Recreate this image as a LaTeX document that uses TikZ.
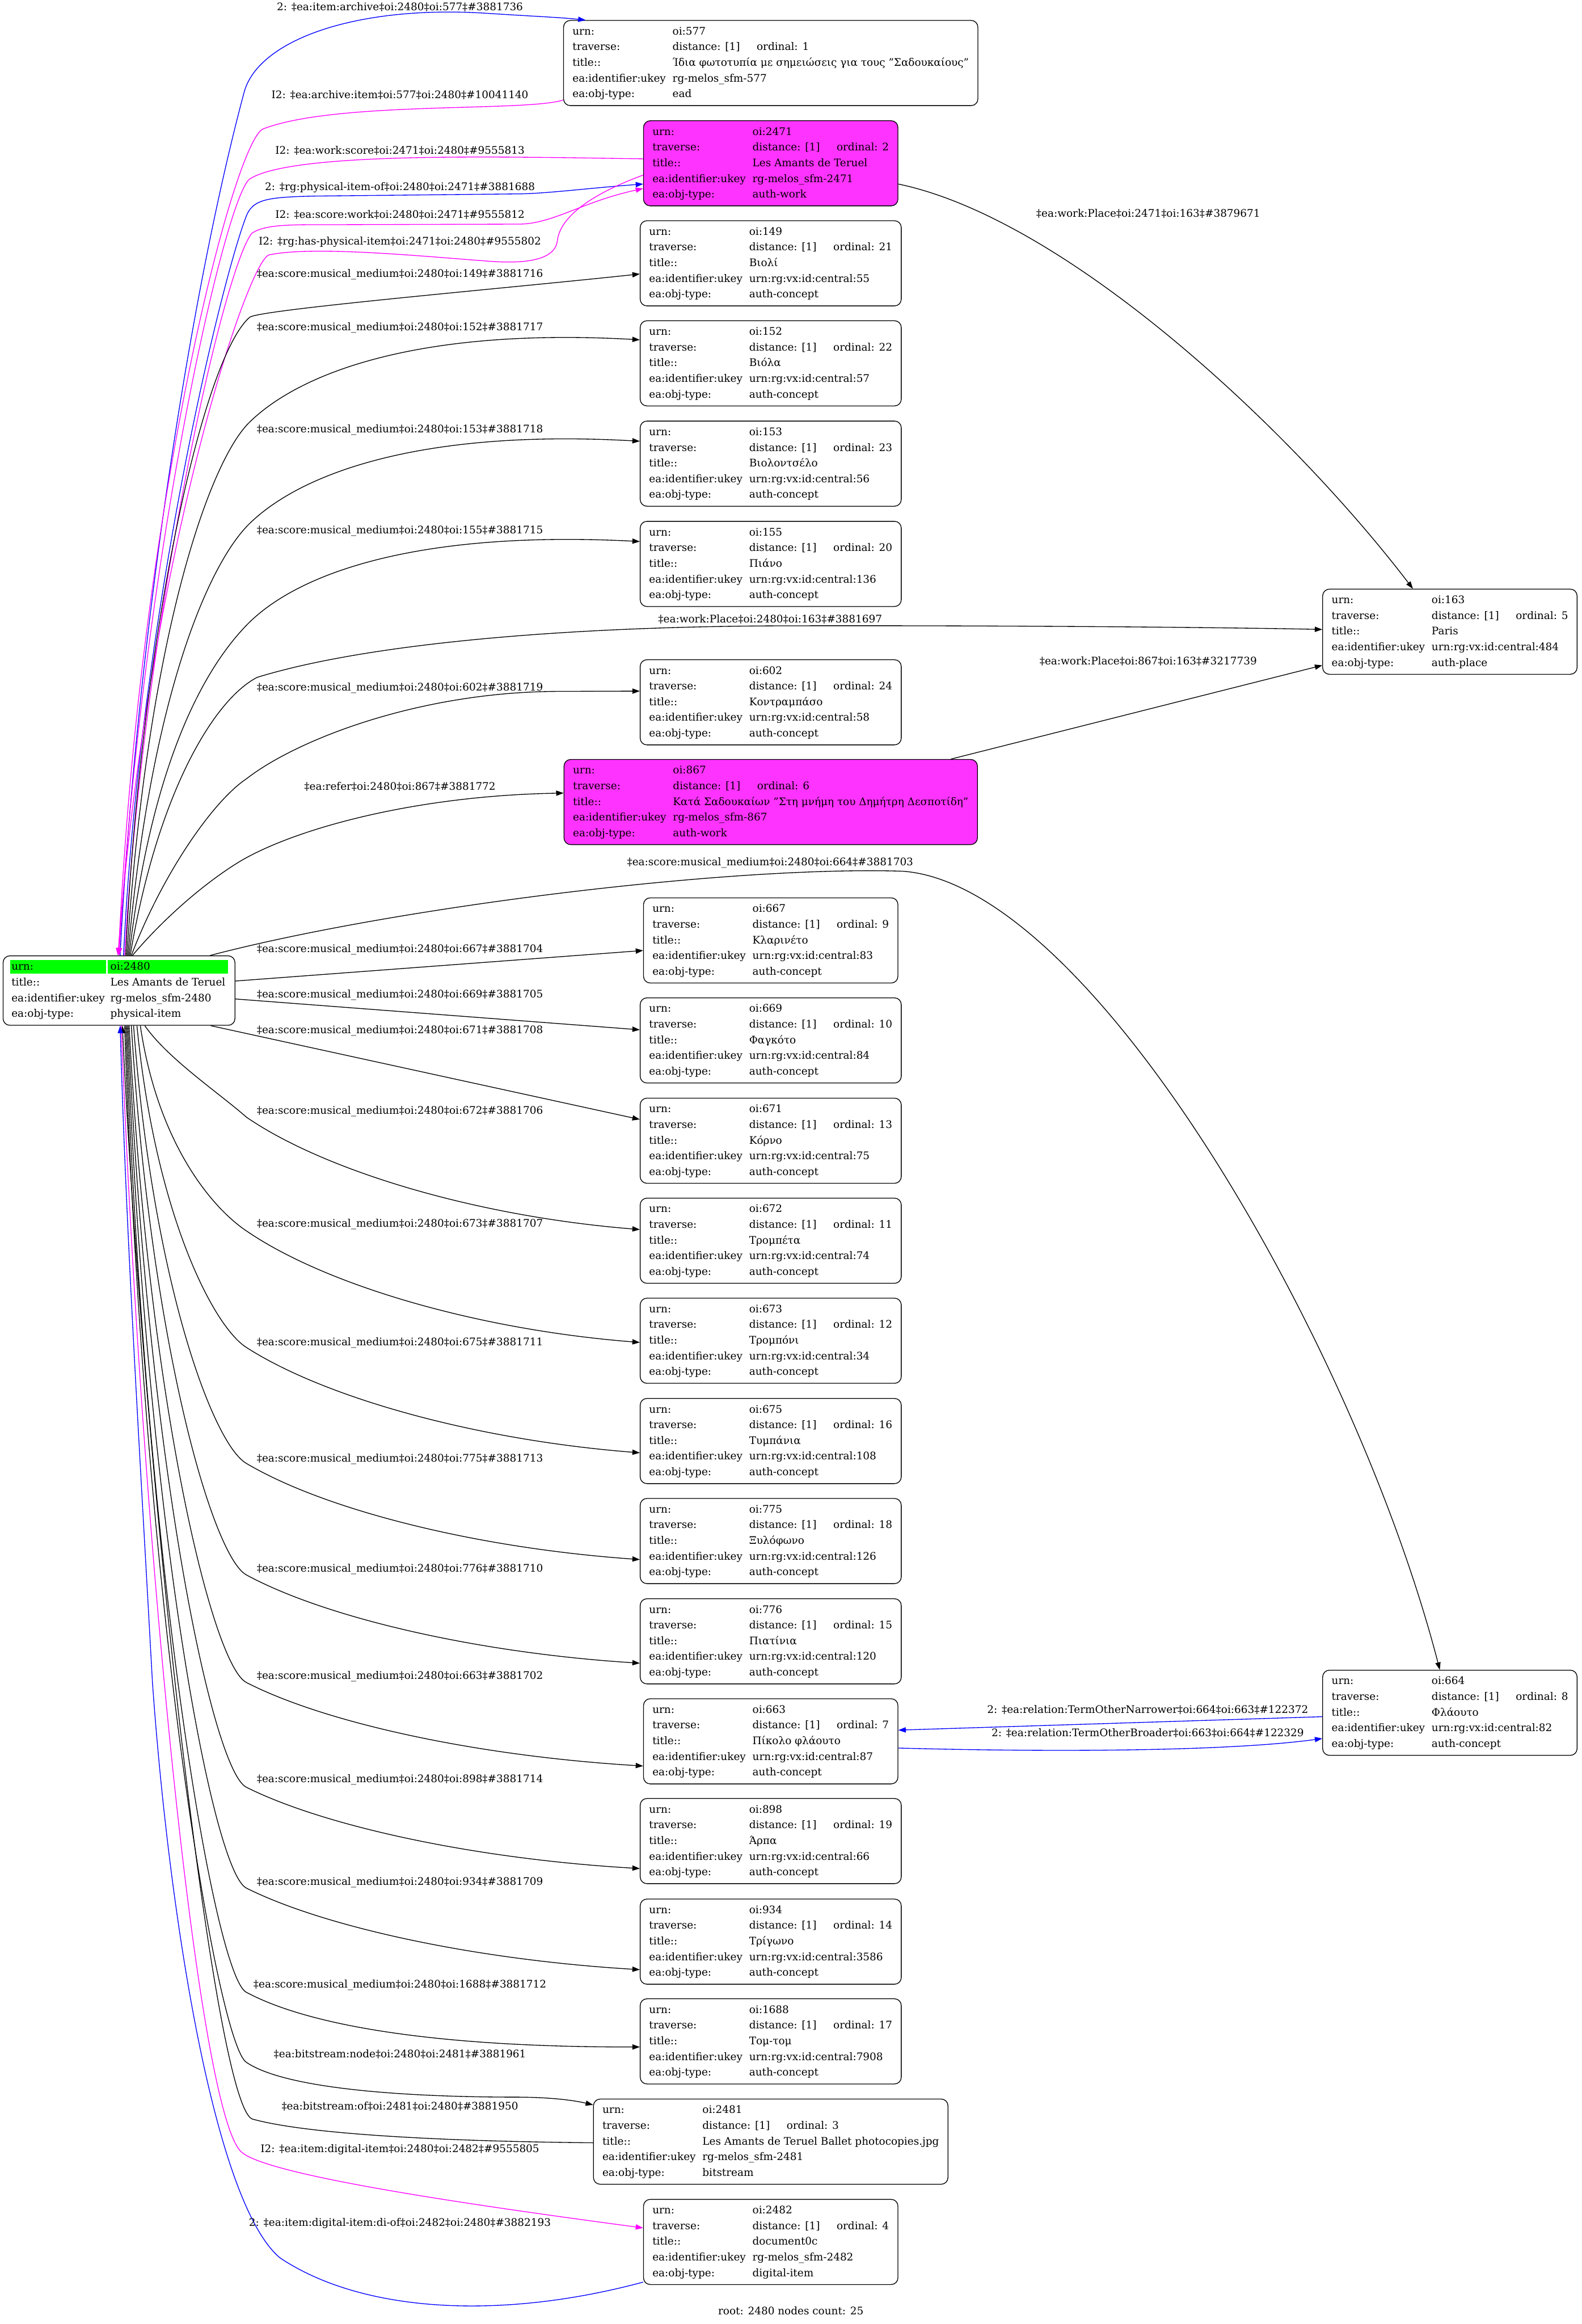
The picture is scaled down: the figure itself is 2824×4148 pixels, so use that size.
\documentclass[tikz,border=0pt]{standalone}
\usepackage{fontspec}
\setmainfont{DejaVu Serif}
\usetikzlibrary{arrows.meta,calc}
\definecolor{magE}{RGB}{255,0,255}
\definecolor{magF}{RGB}{255,51,255}
\definecolor{grn}{RGB}{0,255,0}
\definecolor{bluE}{RGB}{0,0,255}
\pgfdeclarelayer{background}
\pgfsetlayers{background,main}
\newcommand{\trv}[1]{distance: [1]\hspace{30pt}ordinal: #1\hspace{13pt}}
\newcommand{\recbox}[5]{\begin{tabular}{@{\hspace{16pt}}l@{\hspace{12pt}}l@{\hspace{16pt}}}urn: & #1\\ traverse: & \trv{#2}\\ title:: & #3\\ ea:identifier:ukey & #4\\ ea:obj-type: & #5\end{tabular}}
\newcommand{\mm}{‡ea:score:musical\_medium‡oi:2480‡oi:}
\begin{document}
\begin{tikzpicture}[x=1pt,y=-1pt,
  font=\fontsize{18.67pt}{28pt}\selectfont,
  nbox/.style={draw, line width=1.35pt, rounded corners=12pt, inner xsep=0pt, inner ysep=6pt},
  magbox/.style={nbox, fill=magF},
  lbl/.style={inner sep=0pt, text height=14pt, text depth=4.5pt},
  conn/.style={line width=1.35pt, -{Triangle[length=13.3pt,width=9.3pt]}},
  bconn/.style={conn, color=bluE},
  mconn/.style={conn, color=magE}]
\useasboundingbox (0,0) rectangle (2824,4148);

% ---------- nodes ----------
\node[nbox] (root) at (212.5,1768) {\begin{tabular}{@{\hspace{15pt}}l@{\hspace{10pt}}l@{\hspace{17pt}}}urn: & oi:2480\\ title:: & Les Amants de Teruel\\ ea:identifier:ukey & rg-melos\_sfm-2480\\ ea:obj-type: & physical-item\end{tabular}};
\begin{pgfonlayer}{background}
\fill[grn] ($(root.north west)+(13,8)$) rectangle ($(root.north west)+(184,32)$);
\fill[grn] ($(root.north west)+(188,8)$) rectangle ($(root.north east)+(-13,32)$);
\end{pgfonlayer}

\node[nbox] (n577) at (1376,112.5) {\recbox{oi:577}{1}{Ίδια φωτοτυπία με σημειώσεις για τους "Σαδουκαίους"}{rg-melos\_sfm-577}{ead}};
\node[magbox] (n2471) at (1376,291.5) {\recbox{oi:2471}{2}{Les Amants de Teruel}{rg-melos\_sfm-2471}{auth-work}};
\node[nbox] (n149) at (1376,470) {\recbox{oi:149}{21}{Βιολί}{urn:rg:vx:id:central:55}{auth-concept}};
\node[nbox] (n152) at (1376,648.5) {\recbox{oi:152}{22}{Βιόλα}{urn:rg:vx:id:central:57}{auth-concept}};
\node[nbox] (n153) at (1376,827.5) {\recbox{oi:153}{23}{Βιολοντσέλο}{urn:rg:vx:id:central:56}{auth-concept}};
\node[nbox] (n155) at (1376,1006.5) {\recbox{oi:155}{20}{Πιάνο}{urn:rg:vx:id:central:136}{auth-concept}};
\node[nbox] (n602) at (1376,1253.5) {\recbox{oi:602}{24}{Κοντραμπάσο}{urn:rg:vx:id:central:58}{auth-concept}};
\node[magbox] (n867) at (1376,1431.5) {\recbox{oi:867}{6}{Κατά Σαδουκαίων "Στη μνήμη του Δημήτρη Δεσποτίδη"}{rg-melos\_sfm-867}{auth-work}};
\node[nbox] (n667) at (1376,1678.5) {\recbox{oi:667}{9}{Κλαρινέτο}{urn:rg:vx:id:central:83}{auth-concept}};
\node[nbox] (n669) at (1376,1857) {\recbox{oi:669}{10}{Φαγκότο}{urn:rg:vx:id:central:84}{auth-concept}};
\node[nbox] (n671) at (1376,2036) {\recbox{oi:671}{13}{Κόρνο}{urn:rg:vx:id:central:75}{auth-concept}};
\node[nbox] (n672) at (1376,2214.5) {\recbox{oi:672}{11}{Τρομπέτα}{urn:rg:vx:id:central:74}{auth-concept}};
\node[nbox] (n673) at (1376,2393) {\recbox{oi:673}{12}{Τρομπόνι}{urn:rg:vx:id:central:34}{auth-concept}};
\node[nbox] (n675) at (1376,2572) {\recbox{oi:675}{16}{Τυμπάνια}{urn:rg:vx:id:central:108}{auth-concept}};
\node[nbox] (n775) at (1376,2750.5) {\recbox{oi:775}{18}{Ξυλόφωνο}{urn:rg:vx:id:central:126}{auth-concept}};
\node[nbox] (n776) at (1376,2929.5) {\recbox{oi:776}{15}{Πιατίνια}{urn:rg:vx:id:central:120}{auth-concept}};
\node[nbox] (n663) at (1376,3108) {\recbox{oi:663}{7}{Πίκολο φλάουτο}{urn:rg:vx:id:central:87}{auth-concept}};
\node[nbox] (n898) at (1376,3286) {\recbox{oi:898}{19}{Άρπα}{urn:rg:vx:id:central:66}{auth-concept}};
\node[nbox] (n934) at (1376,3465.5) {\recbox{oi:934}{14}{Τρίγωνο}{urn:rg:vx:id:central:3586}{auth-concept}};
\node[nbox] (n1688) at (1376,3643.5) {\recbox{oi:1688}{17}{Τομ-τομ}{urn:rg:vx:id:central:7908}{auth-concept}};
\node[nbox] (n2481) at (1376,3822.5) {\recbox{oi:2481}{3}{Les Amants de Teruel Ballet photocopies.jpg}{rg-melos\_sfm-2481}{bitstream}};
\node[nbox] (n2482) at (1376,4001.5) {\recbox{oi:2482}{4}{document0c}{rg-melos\_sfm-2482}{digital-item}};
\node[nbox] (n163) at (2588.5,1127.5) {\recbox{oi:163}{5}{Paris}{urn:rg:vx:id:central:484}{auth-place}};
\node[nbox] (n664) at (2588.5,3057) {\recbox{oi:664}{8}{Φλάουτο}{urn:rg:vx:id:central:82}{auth-concept}};

% ---------- edges above root ----------
\draw[bconn] ($(root.north)+(2,0)$) .. controls (240,1200) and (330,560) .. (436,164) .. controls (462,70) and (640,8) .. (873,24) .. controls (950,29) and (1000,31) .. ($(n577.north west)+(40,0)$);
\draw[mconn] ($(n577.west)+(0,66)$) .. controls (940,200) and (600,180) .. (470,230) .. controls (418,250) and (250,900) .. ($(root.north)+(-1,0)$);
\draw[mconn] ($(n2471.west)+(0,-8)$) .. controls (900,280) and (520,270) .. (445,320) .. controls (400,360) and (255,1000) .. ($(root.north)+(0,0)$);
\draw[bconn] ($(root.north)+(8,0)$) .. controls (250,1100) and (395,500) .. (440,385) .. controls (452,355) and (480,352) .. (560,350) -- (930,346) .. controls (980,345) and (1060,335) .. ($(n2471.west)+(0,37)$);
\draw[mconn] ($(root.north)+(10,0)$) .. controls (258,1100) and (400,475) .. (450,416) .. controls (475,400) and (520,401) .. (600,401) -- (930,400) .. controls (990,398) and (1040,360) .. ($(n2471.west)+(0,45)$);
\draw[mconn] ($(n2471.west)+(0,21)$) .. controls (1060,345) and (1000,385) .. (995,430) .. controls (990,470) and (920,470) .. (870,466) .. controls (760,458) and (560,438) .. (480,455) .. controls (440,470) and (265,1000) .. ($(root.north)+(-2,0)$);

\draw[conn] ($(root.north)+(12,0)$) .. controls (250,1150) and (360,640) .. (446,566) .. controls (470,552) and (900,515) .. ($(n149.west)+(0,19)$);
\draw[conn] ($(root.north)+(14,0)$) .. controls (262,1150) and (370,830) .. (444,755) .. controls (540,660) and (760,585) .. ($(n152.west)+(0,-42)$);
\draw[conn] ($(root.north)+(16,0)$) .. controls (268,1250) and (370,1010) .. (444,936) .. controls (540,841) and (760,766) .. ($(n153.west)+(0,-40)$);
\draw[conn] ($(root.north)+(18,0)$) .. controls (272,1350) and (370,1186) .. (444,1112) .. controls (540,1017) and (760,947) .. ($(n155.west)+(0,-40)$);
\draw[conn] ($(root.north)+(20,0)$) .. controls (280,1420) and (380,1250) .. (459,1209) .. controls (650,1150) and (1000,1118) .. (1400,1117) .. controls (1800,1116) and (2200,1120) .. ($(n163.west)+(0,-4)$);
\draw[conn] ($(root.north)+(22,0)$) .. controls (290,1560) and (380,1430) .. (440,1390) .. controls (530,1320) and (750,1234) .. (1000,1234) -- ($(n602.west)+(0,-20)$);
\draw[conn] ($(root.north)+(24,0)$) .. controls (300,1630) and (380,1565) .. (436,1533) .. controls (540,1475) and (750,1420) .. ($(n867.west)+(0,-16)$);
\draw[conn] ($(root.north east)+(-45,0)$) .. controls (700,1620) and (1300,1545) .. (1612,1555) .. controls (1950,1580) and (2420,2400) .. ($(n664.north)+(-18,0)$);

% ---------- edges right / below root ----------
\draw[conn] ($(root.east)+(0,-17)$) -- ($(n667.west)+(0,18)$);
\draw[conn] ($(root.east)+(0,15)$) -- ($(n669.west)+(0,-19)$);
\draw[conn] ($(root.south east)+(-44,0)$) -- ($(n671.west)+(0,-38)$);
\draw[conn] ($(root.south)+(46,0)$) .. controls (300,1890) and (390,1950) .. (440,1994) .. controls (580,2090) and (850,2171) .. ($(n672.west)+(0,-20)$);
\draw[conn] ($(root.south)+(38,0)$) .. controls (282,2043) and (380,2157) .. (440,2197) .. controls (580,2293) and (850,2373) .. ($(n673.west)+(0,3)$);
\draw[conn] ($(root.south)+(32,0)$) .. controls (277,2164) and (380,2367) .. (440,2405) .. controls (580,2495) and (850,2570) .. ($(n675.west)+(0,21)$);
\draw[conn] ($(root.south)+(26,0)$) .. controls (272,2284) and (380,2578) .. (440,2612) .. controls (580,2695) and (850,2763) .. ($(n775.west)+(0,33)$);
\draw[conn] ($(root.south)+(22,0)$) .. controls (269,2399) and (380,2779) .. (440,2811) .. controls (580,2887) and (850,2950) .. ($(n776.west)+(0,39)$);
\draw[conn] ($(root.south)+(18,0)$) .. controls (266,2510) and (380,2973) .. (440,3003) .. controls (580,3075) and (850,3134) .. ($(n663.west)+(0,44)$);
\draw[conn] ($(root.south)+(16,0)$) .. controls (264,2619) and (380,3161) .. (440,3190) .. controls (580,3260) and (850,3318) .. ($(n898.west)+(0,49)$);
\draw[conn] ($(root.south)+(14,0)$) .. controls (262,2723) and (380,3341) .. (440,3370) .. controls (580,3440) and (850,3498) .. ($(n934.west)+(0,50)$);
\draw[conn] ($(root.south)+(12,0)$) .. controls (261,2831) and (385,3530) .. (440,3556) .. controls (560,3620) and (800,3654) .. ($(n1688.west)+(0,10)$);
\draw[conn] ($(root.south)+(10,0)$) .. controls (259,2904) and (390,3650) .. (440,3681) .. controls (520,3735) and (780,3743) .. (918,3743) .. controls (990,3743) and (1030,3750) .. ($(n2481.north west)+(0,11)$);
\draw[conn] ($(n2481.west)+(0,2)$) .. controls (800,3822) and (550,3810) .. (450,3782) .. controls (380,3750) and (255,2600) .. ($(root.south)+(6,0)$);
\draw[mconn] ($(root.south)+(4,0)$) .. controls (250,2700) and (350,3760) .. (430,3840) .. controls (470,3880) and (800,3930) .. ($(n2482.west)+(0,-25)$);
\draw[bconn] ($(n2482.south west)+(0,-5)$) .. controls (900,4140) and (650,4130) .. (500,4030) .. controls (380,3930) and (300,3400) .. (272,3000) .. controls (250,2600) and (225,2200) .. ($(root.south)+(2,0)$);

\draw[conn] ($(n2471.east)+(0,37)$) .. controls (1900,390) and (2300,760) .. ($(n163.north)+(-66,0)$);
\draw[conn] ($(n867.north east)+(-48,0)$) -- ($(n163.west)+(0,60)$);
\draw[bconn] ($(n664.west)+(0,7)$) -- ($(n663.east)+(0,-20)$);
\draw[bconn] ($(n663.east)+(0,12)$) .. controls (1900,3128) and (2200,3125) .. ($(n664.west)+(0,46)$);

% ---------- labels ----------
\node[lbl] (l577a) at (714,14) {2: ‡ea:item:archive‡oi:2480‡oi:577‡\#3881736};
\node[lbl] (l577b) at (714,171) {I2: ‡ea:archive:item‡oi:577‡oi:2480‡\#10041140};
\node[lbl] (l2471a) at (714,270) {I2: ‡ea:work:score‡oi:2471‡oi:2480‡\#9555813};
\node[lbl] (l2471b) at (714,335) {2: ‡rg:physical-item-of‡oi:2480‡oi:2471‡\#3881688};
\node[lbl] (l2471c) at (714,385) {I2: ‡ea:score:work‡oi:2480‡oi:2471‡\#9555812};
\node[lbl] (l2471d) at (714,432) {I2: ‡rg:has-physical-item‡oi:2471‡oi:2480‡\#9555802};
\node[lbl] (l149) at (714,490) {\mm149‡\#3881716};
\node[lbl] (l152) at (714,585) {\mm152‡\#3881717};
\node[lbl] (l153) at (714,767) {\mm153‡\#3881718};
\node[lbl] (l155) at (714,948) {\mm155‡\#3881715};
\node[lbl] (l163a) at (1375,1107) {‡ea:work:Place‡oi:2480‡oi:163‡\#3881697};
\node[lbl] (l602) at (714,1228) {\mm602‡\#3881719};
\node[lbl] (l867) at (714,1405) {‡ea:refer‡oi:2480‡oi:867‡\#3881772};
\node[lbl] (l664) at (1375,1540) {\mm664‡\#3881703};
\node[lbl] (l667) at (714,1695) {\mm667‡\#3881704};
\node[lbl] (l669) at (714,1776) {\mm669‡\#3881705};
\node[lbl] (l671) at (714,1840) {\mm671‡\#3881708};
\node[lbl] (l672) at (714,1984) {\mm672‡\#3881706};
\node[lbl] (l673) at (714,2185) {\mm673‡\#3881707};
\node[lbl] (l675) at (714,2397) {\mm675‡\#3881711};
\node[lbl] (l775) at (714,2604) {\mm775‡\#3881713};
\node[lbl] (l776) at (714,2801) {\mm776‡\#3881710};
\node[lbl] (l663) at (714,2992) {\mm663‡\#3881702};
\node[lbl] (l898) at (714,3177) {\mm898‡\#3881714};
\node[lbl] (l934) at (714,3360) {\mm934‡\#3881709};
\node[lbl] (l1688) at (714,3543) {\mm1688‡\#3881712};
\node[lbl] (lbsn) at (714,3668) {‡ea:bitstream:node‡oi:2480‡oi:2481‡\#3881961};
\node[lbl] (lbso) at (714,3761) {‡ea:bitstream:of‡oi:2481‡oi:2480‡\#3881950};
\node[lbl] (ldig) at (714,3837) {I2: ‡ea:item:digital-item‡oi:2480‡oi:2482‡\#9555805};
\node[lbl] (ldiof) at (714,3969) {2: ‡ea:item:digital-item:di-of‡oi:2482‡oi:2480‡\#3882193};
\node[lbl] (l163b) at (2050,383) {‡ea:work:Place‡oi:2471‡oi:163‡\#3879671};
\node[lbl] (l163c) at (2050,1182) {‡ea:work:Place‡oi:867‡oi:163‡\#3217739};
\node[lbl] (lnar) at (2049,3053) {2: ‡ea:relation:TermOtherNarrower‡oi:664‡oi:663‡\#122372};
\node[lbl] (lbro) at (2049,3095) {2: ‡ea:relation:TermOtherBroader‡oi:663‡oi:664‡\#122329};
\node[lbl] (foot) at (1412,4126) {root: 2480 nodes count: 25};
\end{tikzpicture}
\end{document}
